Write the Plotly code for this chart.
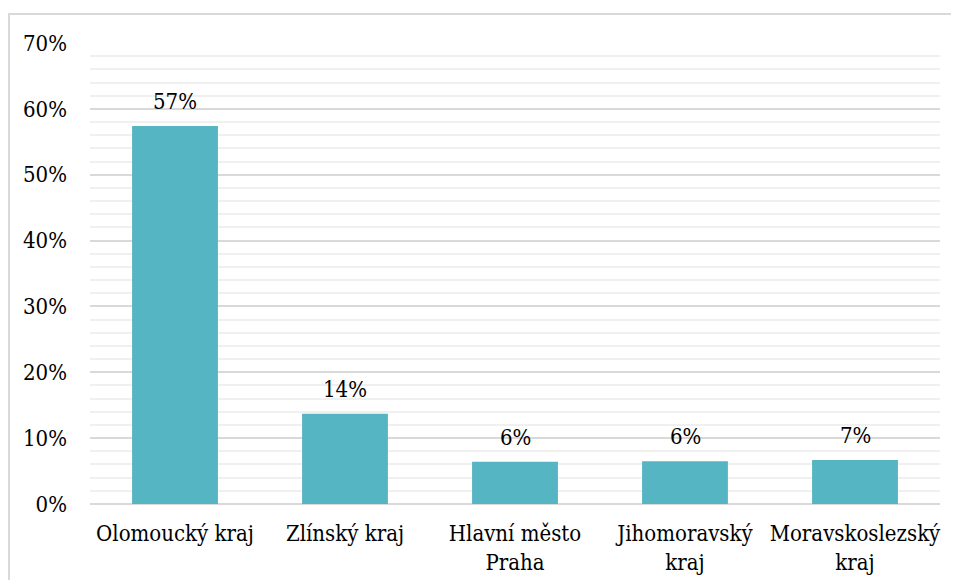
import plotly.graph_objects as go

categories = ["Olomoucký kraj", "Zlínský kraj", "Hlavní město<br>Praha",
              "Jihomoravský<br>kraj", "Moravskoslezský<br>kraj"]
values = [0.574, 0.137, 0.064, 0.065, 0.067]
labels = ["57%", "14%", "6%", "6%", "7%"]
tick_vals = [0, 0.1, 0.2, 0.3, 0.4, 0.5, 0.6, 0.7]
tick_text = ["0%", "10%", "20%", "30%", "40%", "50%", "60%", "70%"]

FONT = "'DejaVu Serif Condensed', 'DejaVu Serif', serif"
FS = 22

fig = go.Figure()
fig.add_trace(go.Bar(
    x=categories, y=values,
    marker=dict(color="#56b5c2", line=dict(width=0)),
    width=0.505,
))
for c, v, t in zip(categories, values, labels):
    fig.add_annotation(x=c, y=v, text=t, showarrow=False, yanchor="bottom",
                       yshift=10, font=dict(family=FONT, size=FS, color="#000000"))

fig.update_layout(
    width=951, height=572,
    margin=dict(l=82, r=19, t=35, b=76, autoexpand=False),
    paper_bgcolor="white", plot_bgcolor="white",
    font=dict(family=FONT, size=FS, color="#000000"),
    showlegend=False,
    shapes=[dict(type="rect", xref="paper", yref="paper",
                 x0=-0.0953, x1=1.0212, y0=-0.2, y1=1.0629,
                 line=dict(color="#d9d9d9", width=2), layer="below")],
)
fig.update_xaxes(showgrid=False, showline=False, ticks="", automargin=False,
                 tickfont=dict(family=FONT, size=FS), ticklabelstandoff=14)
fig.update_yaxes(range=[0, 0.7], tickvals=tick_vals, ticktext=tick_text,
                 showgrid=True, gridcolor="#d9d9d9", gridwidth=2,
                 minor=dict(dtick=0.02, showgrid=True, gridcolor="#f0f0f0", gridwidth=2),
                 zeroline=True, zerolinecolor="#d9d9d9", zerolinewidth=2,
                 showline=False, ticks="", automargin=False,
                 tickfont=dict(family=FONT, size=FS), ticklabelstandoff=22)

fig.write_html("out.html")
